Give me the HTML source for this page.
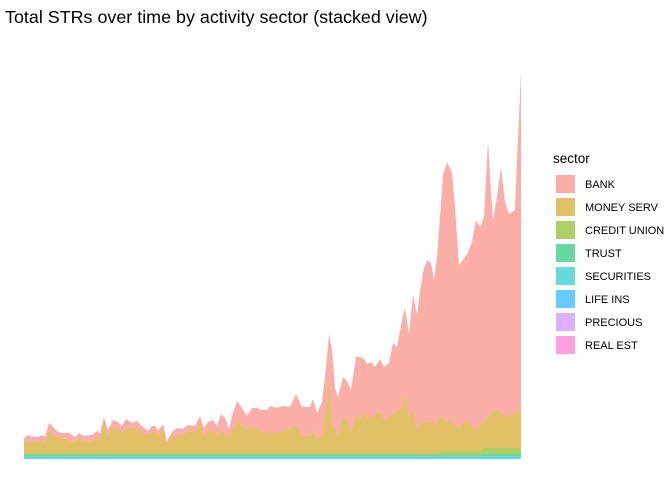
<!DOCTYPE html>
<html><head><meta charset="utf-8"><style>
body{margin:0;background:#fff;font-family:"Liberation Sans",sans-serif}
svg{display:block}
</style></head><body>
<svg id="chart" width="672" height="480">
<text x="5" y="23" font-size="17.9" fill="#000">Total STRs over time by activity sector (stacked view)</text>
<g id="areas"></g>
<g id="legend">
<text x="553" y="163" font-size="13.5" fill="#000">sector</text>
</g>
</svg>
<script>
const periods=[24,28,33,38,42,45,49,53,58,63,70,75,79,83,92,97,100,104,108,113,118,122,126,132,137,143,148,152,155,158,163,167,172,177,183,188,195,200,204,208,213,217,221,225,229,233,237,242,247,252,257,262,267,
270,277,283,290,296,302,310,313,317,322,326,329,332,335,338,343,347,351,356,360,364,367,371,375,380,384,389,393,397,402,405,409,413,417,420,423,427,431,434,437,440,443,447,452,455,459,463,468,472,476,480,484,488,491,493,497,501,505,509,515,517,519,521];
const moneyServ=[11,11,11,12,12,9,22,18,16,14,12,11,15,11,12,16,11,33,18,26,23,21,25,25,25,20,18,22,21,18,23,11,16,18,18,22,21,30,18,21,23,17,22,20,16,24,32,27,25,27,24,20,22,
20,21,21,24,28,18,17,23,15,18,44,75,30,24,18,36,33,21,39,34,40,36,36,38,41,34,37,40,41,46,58,36,42,23,28,32,30,32,30,28,36,32,30,29,26,23,28,30,25,21,27,26,33,35,36,38,35,33,31,36,35,37,40];
const bank=[4,7,5,4,6,7,8,8,5,6,8,5,5,6,6,6,9,3,5,7,8,6,9,5,7,6,4,5,6,4,6,1,5,7,6,6,6,7,7,10,10,10,17,15,8,16,20,18,12,18,21,23,21,
27,24,26,22,31,28,29,31,25,33,41,44,73,41,38,40,39,42,57,62,54,53,55,48,53,52,53,70,65,87,87,82,116,115,133,149,163,158,143,168,198,244,259,250,218,163,163,168,184,210,197,205,274,221,192,213,246,213,203,202,253,293,338];
const creditUnion=[2,2,2,2,2,2,2,2,2,2,2,2,2,2,2,2,2,2,2,2,2,2,2,2,2,2,2,2,2,2,2,2,2,2,2,2,2,2,2,2,2,2,2,2,2,2,2,2,2,2,2,2,2,
2,2,2,2,2,2,2,2,2,2,2,2,2,2,2,2,2,2,2,2,2,2,2,2,2,2,2,2,2,2,2,2,2,2,2,2,2,2,2,2,4,4,4,4,4,4,4,4,4,4,4,6,6,6,6,6,6,6,6,6,6,6,6];
const trust=[1,1,1,1,1,1,1,1,1,1,1,1,1,1,1,1,1,1,1,1,1,1,1,1,1,1,1,1,1,1,1,1,1,1,1,1,1,1,1,1,1,1,1,1,1,1,1,1,1,1,1,1,1,
1,1,1,1,1,1,1,1,1,1,1,1,1,1,1,1,1,1,1,1,1,1,1,1,1,1,1,1,1,1,1,1,1,1,1,1,1,1,1,1,1,1,1,1,1,1,1,1,1,1,1,2,2,2,2,2,2,2,2,2,2,2,2];
const securities=[3,3,3,3,3,3,3,3,3,3,3,3,3,3,3,3,3,3,3,3,3,3,3,3,3,3,3,3,3,3,3,3,3,3,3,3,3,3,3,3,3,3,3,3,3,3,3,3,3,3,3,3,3,
3,3,3,3,3,3,3,3,3,3,3,3,3,3,3,3,3,3,3,3,3,3,3,3,3,3,3,3,3,3,3,3,3,3,3,3,3,3,3,3,3,3,3,3,3,3,3,3,3,3,3,3,3,3,3,3,3,3,3,3,3,3,3];
const sectorNames=["BANK","MONEY SERV","CREDIT UNION","TRUST","SECURITIES","LIFE INS","PRECIOUS","REAL EST"];
const sectorColors=["#F8766D","#CD9600","#7CAE00","#00BE67","#00BFC4","#00A9FF","#C77CFF","#FF61CC"];

const x0=24,x1=521,baseY=459,unitPx=1;
function xs(p){return x0+(p-periods[0])/(periods[periods.length-1]-periods[0])*(x1-x0);}
function ys(v){return baseY-v*unitPx;}
const stack=[[securities,4],[trust,3],[creditUnion,2],[moneyServ,1],[bank,0]];
const NS="http://www.w3.org/2000/svg";
const g=document.getElementById('areas');
let cum=periods.map(()=>0);
stack.forEach(([arr,ci])=>{
  const lower=cum.slice();
  cum=cum.map((c,i)=>c+arr[i]);
  let d="";
  periods.forEach((p,i)=>{d+=(i?"L":"M")+xs(p).toFixed(1)+","+ys(cum[i]).toFixed(1);});
  for(let i=periods.length-1;i>=0;i--)d+="L"+xs(periods[i]).toFixed(1)+","+ys(lower[i]).toFixed(1);
  d+="Z";
  const path=document.createElementNS(NS,'path');
  path.setAttribute('d',d);
  path.setAttribute('fill',sectorColors[ci]);
  path.setAttribute('fill-opacity','0.6');
  
  
  g.appendChild(path);
});
const lg=document.getElementById('legend');
sectorNames.forEach((n,i)=>{
  const y=175+i*23;
  const r=document.createElementNS(NS,'rect');
  r.setAttribute('x',556);r.setAttribute('y',y);r.setAttribute('width',19);r.setAttribute('height',18);
  r.setAttribute('fill',sectorColors[i]);r.setAttribute('fill-opacity','0.6');
  
  
  lg.appendChild(r);
  const t=document.createElementNS(NS,'text');
  t.setAttribute('x',585);t.setAttribute('y',y+13);t.setAttribute('font-size','11');t.setAttribute('fill','#000');
  t.textContent=n;
  
  
  lg.appendChild(t);
});
</script>
</body></html>
